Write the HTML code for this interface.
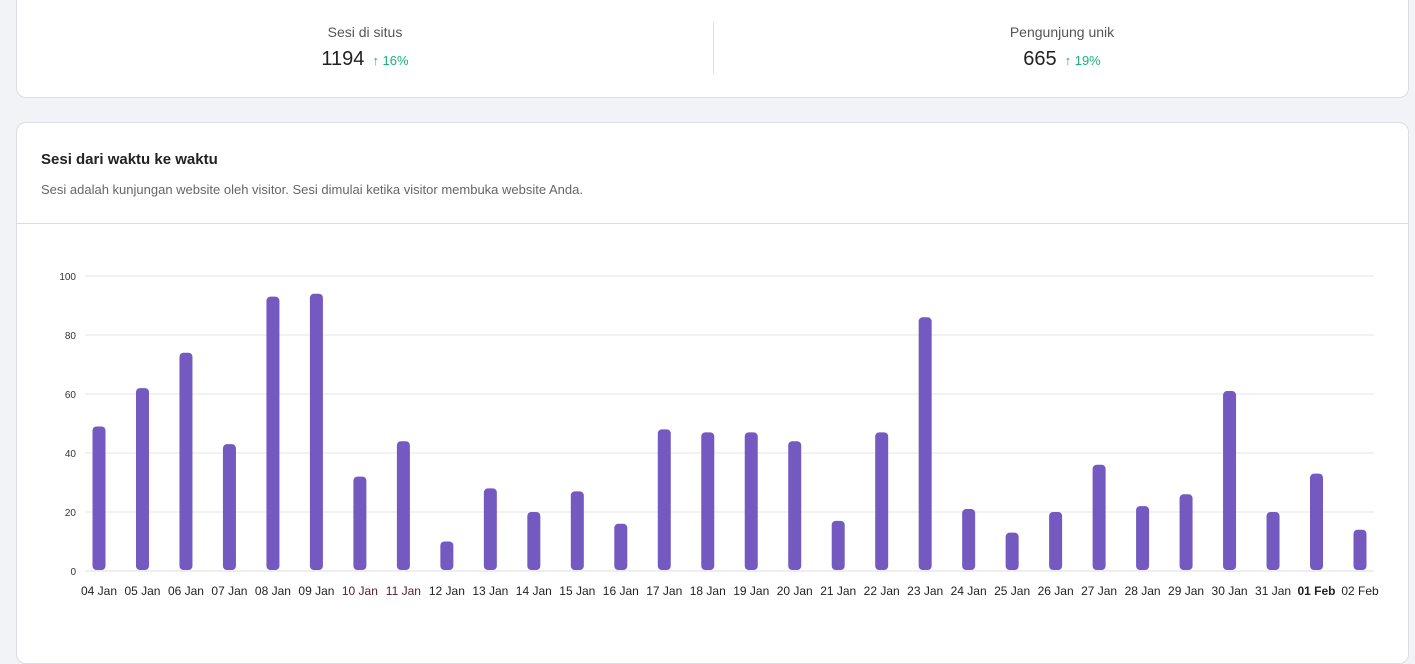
<!DOCTYPE html>
<html><head><meta charset="utf-8"><style>
body{margin:0;width:1415px;height:634px;background:#f2f3f6;font-family:"Liberation Sans",sans-serif;position:relative;overflow:hidden}
.card{position:absolute;background:#fff;border:1px solid #dcdde3;border-radius:10px}
.stat{position:absolute;top:0;width:696px;text-align:center}
.lbl{font-size:14px;color:#555;margin-top:23px}
.val{font-size:20px;color:#222;margin-top:8px}
.pct{font-size:13px;color:#18b27d;margin-left:8px}
</style></head><body>
<div class="card" style="left:16px;top:-12px;width:1391px;height:108px">
 <div class="stat" style="left:0;top:12px">
  <div class="lbl">Sesi di situs</div>
  <div class="val">1194<span class="pct">↑ 16%</span></div>
 </div>
 <div style="position:absolute;left:696px;top:33px;width:1px;height:52px;background:#e0e0e0"></div>
 <div class="stat" style="left:697px;top:12px">
  <div class="lbl">Pengunjung unik</div>
  <div class="val">665<span class="pct">↑ 19%</span></div>
 </div>
</div>
<div class="card" style="left:16px;top:122px;width:1391px;height:540px">
 <div style="position:absolute;left:24px;top:28px;font-size:15px;font-weight:bold;color:#222">Sesi dari waktu ke waktu</div>
 <div style="position:absolute;left:24px;top:59px;font-size:13px;color:#666">Sesi adalah kunjungan website oleh visitor. Sesi dimulai ketika visitor membuka website Anda.</div>
 <div style="position:absolute;left:0;top:100px;width:1391px;height:1px;background:#dcdde3"></div>
</div>
<svg id="chart" width="1415" height="634" style="position:absolute;left:0;top:0"></svg>
<script>
const categories=["04 Jan","05 Jan","06 Jan","07 Jan","08 Jan","09 Jan","10 Jan","11 Jan","12 Jan","13 Jan","14 Jan","15 Jan","16 Jan","17 Jan","18 Jan","19 Jan","20 Jan","21 Jan","22 Jan","23 Jan","24 Jan","25 Jan","26 Jan","27 Jan","28 Jan","29 Jan","30 Jan","31 Jan","01 Feb","02 Feb"];
const sessions=[49,62,74,43,93,94,32,44,10,28,20,27,16,48,47,47,44,17,47,86,21,13,20,36,22,26,61,20,33,14];
const yTicks=[0,20,40,60,80,100];
const svg=document.getElementById('chart');
const NS='http://www.w3.org/2000/svg';
const y0=571,yTop=276,xFirst=99,xLast=1360;
const y=v=>y0-(v/100)*(y0-yTop);
const x=i=>xFirst+i*(xLast-xFirst)/(categories.length-1);
function mk(t,a){const e=document.createElementNS(NS,t);for(const k in a)e.setAttribute(k,a[k]);svg.appendChild(e);return e;}
yTicks.forEach(t=>{
 const l=mk('line',{x1:85,x2:1374,y1:y(t),y2:y(t),stroke:t===0?'#dcdce0':'#e6e6ea','stroke-width':1});
 
 
 const tx=mk('text',{x:76,y:y(t)+4,'text-anchor':'end','font-size':10,fill:'#333','font-family':'Liberation Sans, sans-serif'});
 tx.textContent=t;
 
 
});
sessions.forEach((v,i)=>{
 const b=mk('rect',{x:x(i)-6.5,y:y(v),width:13,height:y0-1-y(v),rx:4,fill:'#7459c1'});
 
 
 const tx=mk('text',{x:x(i),y:595,'text-anchor':'middle','font-size':12,fill:(i===6||i===7)?'#5a1830':'#222','font-weight':categories[i]==='01 Feb'?'bold':'normal','font-family':'Liberation Sans, sans-serif'});
 tx.textContent=categories[i];
 
 
});
</script>
</body></html>
